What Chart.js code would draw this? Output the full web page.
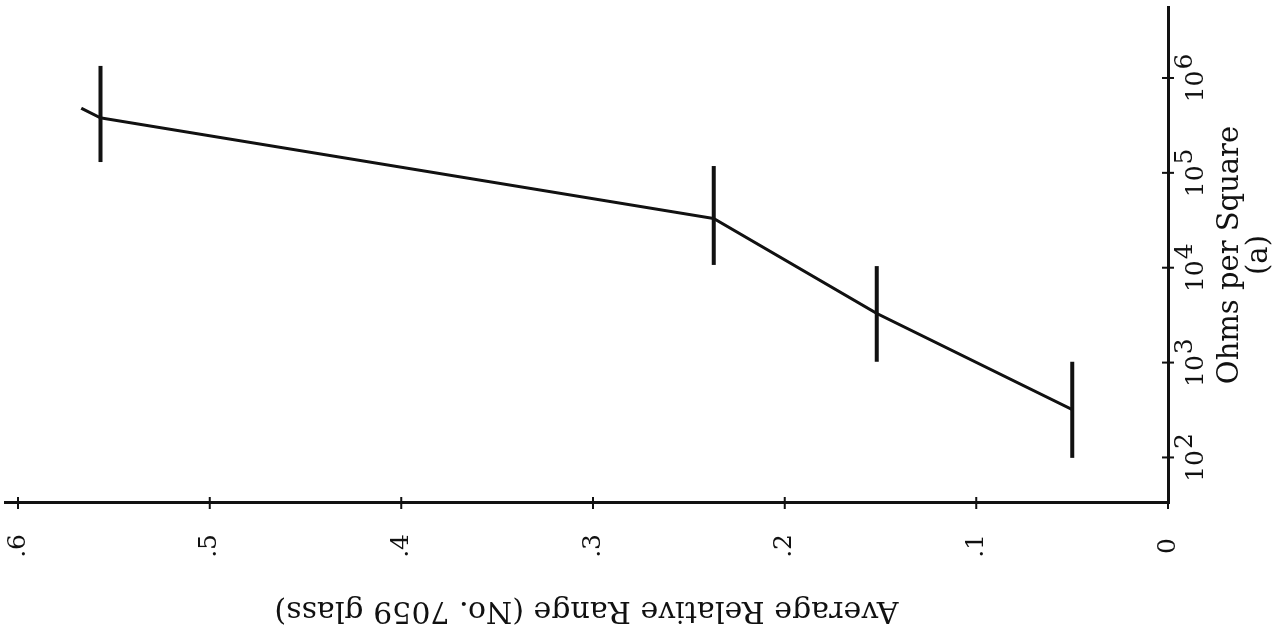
<!DOCTYPE html>
<html>
<head>
<meta charset="utf-8">
<title>Average Relative Range vs Ohms per Square</title>
<script src="https://cdn.jsdelivr.net/npm/chart.js@4/dist/chart.umd.min.js"></script>
<style>
  html, body { margin: 0; padding: 0; background: #fff; overflow: hidden; }
  body { width: 1277px; height: 633px; position: relative; }
  /* the figure is printed sideways, so the chart is drawn upright and turned */
  #wrap { position: absolute; left: 322px; top: -322px; width: 633px; height: 1277px; transform: rotate(-90deg); }
</style>
</head>
<body>
<div id="wrap"><canvas id="chart" width="633" height="1277"></canvas></div>
<script>
// curve (first point is the short tail beyond the last sample)
const ohmsValues  = [4.8e5, 3.8e5, 3.3e4, 3.3e3, 3.2e2];
const rangeValues = [0.567, 0.557, 0.237, 0.152, 0.050];

// resistance spread bars
const barRange = [0.557, 0.237, 0.152, 0.050];
const barLow   = [1.30e5, 1.07e4, 1.02e3, 99];
const barHigh  = [1.34e6, 1.18e5, 1.04e4, 1.02e3];

// axes
const ohmTicks = [1e2, 1e3, 1e4, 1e5, 1e6];
const ohmExponents = ['2', '3', '4', '5', '6'];
const rangeTicks = [0, 0.1, 0.2, 0.3, 0.4, 0.5, 0.6];
const rangeTickLabels = ['0', '.1', '.2', '.3', '.4', '.5', '.6'];

const INK = '#111';
const FONT = '"DejaVu Serif", serif';

const datasets = [{
    data: ohmsValues.map((o, i) => ({ x: o, y: rangeValues[i] })),
    borderColor: INK,
    borderWidth: 3,
    pointRadius: 0,
    tension: 0
}];
barRange.forEach((r, i) => {
    datasets.push({
        data: [{ x: barLow[i], y: r }, { x: barHigh[i], y: r }],
        borderColor: INK,
        borderWidth: 4,
        pointRadius: 0
    });
});

// ticks that cross the axes and the 10^n labels
const axisMarks = {
    id: 'axisMarks',
    afterDraw(chart) {
        const { ctx, chartArea } = chart;
        const xs = chart.scales.x, ys = chart.scales.y;
        ctx.save();
        ctx.strokeStyle = INK;
        ctx.lineWidth = 2;
        ctx.beginPath();
        ohmTicks.forEach(v => {
            const p = xs.getPixelForValue(v);
            ctx.moveTo(p, chartArea.bottom - 6);
            ctx.lineTo(p, chartArea.bottom + 6);
        });
        rangeTicks.forEach(v => {
            const p = ys.getPixelForValue(v);
            ctx.moveTo(chartArea.left - 6, p);
            ctx.lineTo(chartArea.left + 6, p);
        });
        ctx.stroke();

        ctx.fillStyle = INK;
        ctx.font = '25px ' + FONT;
        ctx.textAlign = 'left';
        ctx.textBaseline = 'alphabetic';
        ohmTicks.forEach((v, i) => {
            const p = xs.getPixelForValue(v);
            const wb = ctx.measureText('10').width;
            const we = ctx.measureText(ohmExponents[i]).width;
            const left = p - (wb + 1 + we) / 2;
            ctx.fillText('10', left, chartArea.bottom + 35);
            ctx.fillText(ohmExponents[i], left + wb + 1, chartArea.bottom + 24);
        });
        ctx.restore();
    }
};

new Chart(document.getElementById('chart'), {
    type: 'line',
    data: { datasets },
    plugins: [axisMarks],
    options: {
        responsive: false,
        animation: false,
        devicePixelRatio: 1,
        layout: { padding: { top: 5, right: 7, left: 0, bottom: 0 } },
        plugins: { legend: { display: false }, tooltip: { enabled: false } },
        scales: {
            x: {
                type: 'logarithmic',
                position: 'bottom',
                min: 33.1,
                max: 5.6e6,
                afterBuildTicks: s => { s.ticks = ohmTicks.map(v => ({ value: v })); },
                afterFit: s => { s.height = 109; s.paddingLeft = 0; s.paddingRight = 0; },
                ticks: { display: false },
                grid: { display: false, drawTicks: false },
                border: { display: true, color: INK, width: 3 },
                title: {
                    display: true,
                    text: ['Ohms per Square', '(a)'],
                    color: INK,
                    font: { family: FONT, size: 29, lineHeight: 1.0 },
                    padding: { top: 0, bottom: 3 }
                }
            },
            y: {
                type: 'linear',
                position: 'left',
                min: 0,
                max: 0.6068,
                afterBuildTicks: s => { s.ticks = rangeTicks.map(v => ({ value: v })); },
                afterFit: s => { s.width = 130; s.paddingTop = 0; s.paddingBottom = 0; },
                ticks: {
                    color: INK,
                    font: { family: FONT, size: 25 },
                    crossAlign: 'center',
                    padding: 31,
                    callback: (v, i) => rangeTickLabels[i]
                },
                grid: { display: false, drawTicks: false },
                border: { display: true, color: INK, width: 3 },
                title: {
                    display: true,
                    text: 'Average Relative Range (No. 7059 glass)',
                    color: INK,
                    font: { family: FONT, size: 30 },
                    padding: { top: 5, bottom: 0 }
                }
            }
        }
    }
});
</script>
</body>
</html>
